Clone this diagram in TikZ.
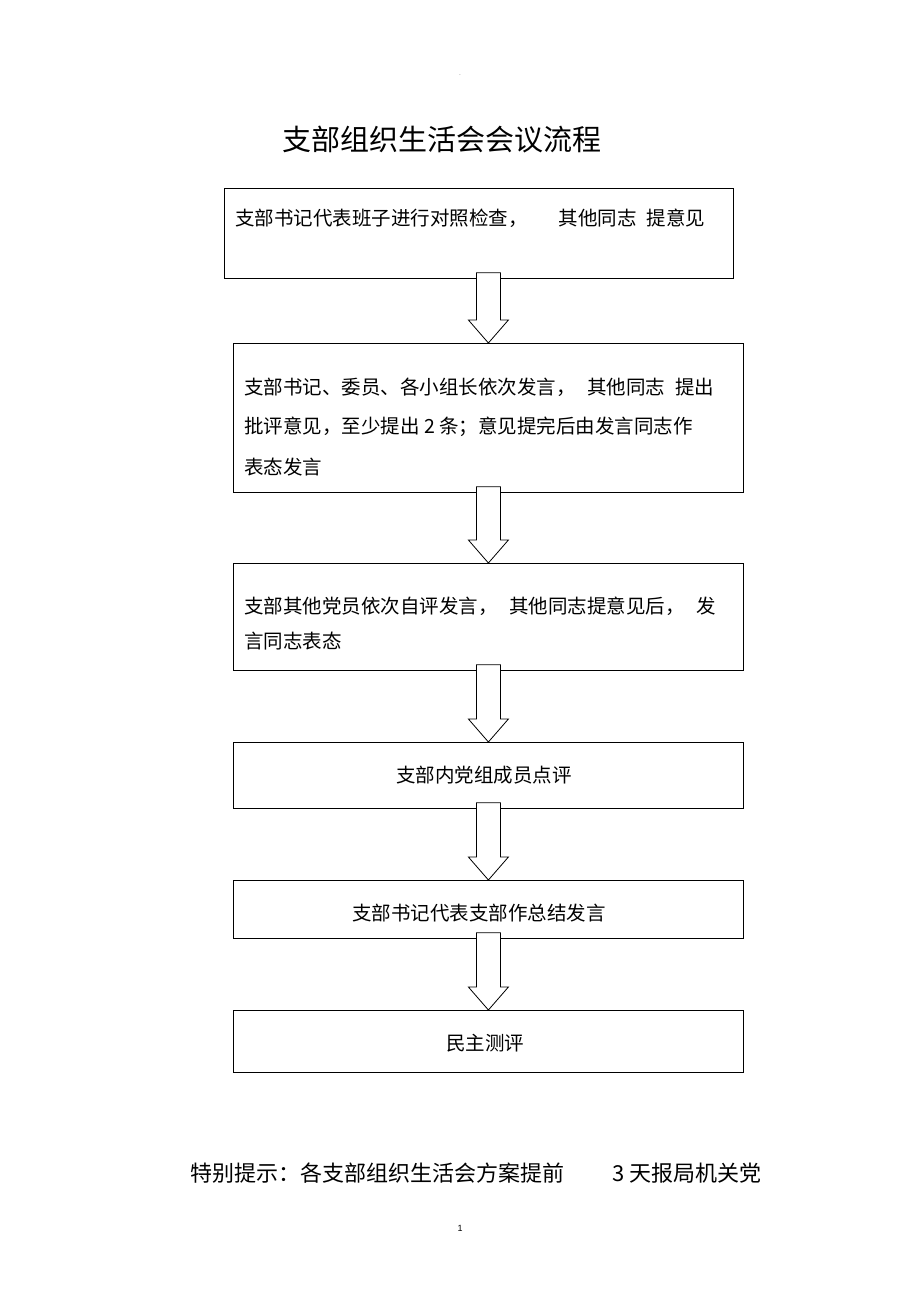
\documentclass[tikz,border=0pt]{standalone}
\usepackage{fontspec}
\setmainfont{Liberation Sans}
\newfontfamily\cjk{Noto Sans CJK SC}
\usetikzlibrary{calc}
\tikzset{
  box/.style={draw, line width=0.8pt, anchor=north west, inner sep=0pt},
  txt/.style={font=\cjk\fontsize{19.5}{40}\selectfont, align=left, anchor=north west, inner sep=0pt},
  ctxt/.style={font=\cjk\fontsize{19.5}{22}\selectfont, inner sep=0pt},
  barrow/.style={draw, line width=0.8pt, fill=white}
}
\newcommand{\blockarrow}[2]{%
  \draw[barrow] ($(#1.south -| #2.north)+(-12,-6)$) -- ($(#2.north)+(-12,-23)$) -- ($(#2.north)+(-20,-23)$)
    -- (#2.north) -- ($(#2.north)+(20,-23)$) -- ($(#2.north)+(12,-23)$) -- ($(#1.south -| #2.north)+(12,-6)$) -- cycle;}
\begin{document}
\begin{tikzpicture}[x=1pt,y=-1pt]
\useasboundingbox (0,0) rectangle (920,1303);
\node[ctxt] (dot) at (460,75) {\tiny .};
\node[font=\cjk\fontsize{29}{34}\selectfont, inner sep=0pt] (title) at (442,140) {支部组织生活会会议流程};
\node[box, minimum width=509pt, minimum height=90pt] (b1) at (224,188) {};
\node[box, minimum width=510pt, minimum height=149pt] (b2) at (233,343) {};
\node[box, minimum width=510pt, minimum height=107pt] (b3) at (233,563) {};
\node[box, minimum width=510pt, minimum height=66pt] (b4) at (233,742) {};
\node[box, minimum width=510pt, minimum height=58pt] (b5) at (233,880) {};
\node[box, minimum width=510pt, minimum height=62pt] (b6) at (233,1010) {};
\node[txt, anchor=west] (t1) at (235,218) {支部书记代表班子进行对照检查，\hspace{1.6em}其他同志\hspace{0.5em}提意见};
\node[txt, anchor=west] (t2) at (244,387) {支部书记、委员、各小组长依次发言，\hspace{0.6em}其他同志\hspace{0.5em}提出};
\node[txt, anchor=west] (t2b) at (244,427) {批评意见，至少提出 2 条；意见提完后由发言同志作};
\node[txt, anchor=west] (t2c) at (244,467) {表态发言};
\node[txt, anchor=west] (t3) at (244,606) {支部其他党员依次自评发言，\hspace{0.6em}其他同志提意见后，\hspace{0.6em}发};
\node[txt, anchor=west] (t3b) at (244,641) {言同志表态};
\node[ctxt] (t4) at (484,775) {支部内党组成员点评};
\node[ctxt] (t5) at (479,913) {支部书记代表支部作总结发言};
\node[ctxt] (t6) at (485,1043) {民主测评};
\blockarrow{b1}{b2}
\blockarrow{b2}{b3}
\blockarrow{b3}{b4}
\blockarrow{b4}{b5}
\blockarrow{b5}{b6}
\node[font=\cjk\fontsize{22}{24}\selectfont, anchor=west, inner sep=0pt] (note) at (190,1173) {特别提示：各支部组织生活会方案提前\hspace{2.2em}3 天报局机关党};
\node[font=\fontsize{9}{10}\selectfont, inner sep=0pt] (pg) at (460,1228) {1};
\end{tikzpicture}
\end{document}
